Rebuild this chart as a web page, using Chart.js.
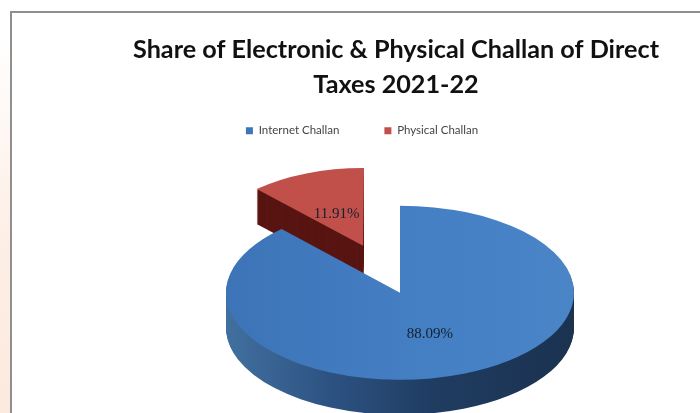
<!DOCTYPE html>
<html>
<head>
<meta charset="utf-8">
<title>Challan share</title>
<script src="https://cdn.jsdelivr.net/npm/chart.js@4/dist/chart.umd.min.js"></script>
<style>
  html, body { margin: 0; padding: 0; width: 700px; height: 413px; overflow: hidden; }
  body { background: linear-gradient(#ffffff 8%, #fdeee5 60%, #fdeade); position: relative; }
  #frame {
    position: absolute; left: 10px; top: 11px; right: 0; bottom: 0;
    background: #fff; border-left: 2px solid #8f8f8f; border-top: 2px solid #8f8f8f;
  }
  canvas { position: absolute; left: 0; top: 0; }
</style>
</head>
<body>
<div id="frame"></div>
<canvas id="chart" width="700" height="413"></canvas>
<script>
const categories = ["Internet Challan", "Physical Challan"];
const shares = [88.09, 11.91];
const titleLines = ["Share of Electronic & Physical Challan of Direct", "Taxes 2021-22"];

const squash = 0.5;      // tilt of the pie
const depth = 35;        // thickness of the 3d edge
const pieRadius = 174;
const slicedRadius = 128;
const sliceAngleFix = 0.034; // arc narrows itself when offset, give that back

const canvas = document.getElementById("chart");
const ctx = canvas.getContext("2d");

function sweep(stops) {
  const g = ctx.createLinearGradient(226, 0, 574, 0);
  stops.forEach(s => g.addColorStop(s[0], s[1]));
  return g;
}

const faceColors = [
  sweep([[0, "#3d74b8"], [0.6, "#457fc4"], [1, "#4a85c8"]]),
  "#c2504a"
];
const sideColors = [
  sweep([[0, "#41709f"], [0.3, "#2d5282"], [0.6, "#1f3c61"], [1, "#1b3250"]]),
  "#581512"
];

function tilt(c, arc, drop) {
  c.translate(0, arc.y + drop);
  c.scale(1, squash);
  c.translate(0, -arc.y);
}

// flat pie gets squashed, and the edge is stacked underneath it
const pie3d = {
  id: "pie3d",
  afterLayout(chart) {
    chart.titleBlock.left -= 4;
    chart.titleBlock.right -= 4;
    chart.legend.left -= 38;
    chart.legend.right -= 38;
    chart.legend.top -= 26;
    chart.legend.bottom -= 26;
  },
  afterDatasetsUpdate(chart) {
    const sliced = chart.getDatasetMeta(0).data[1];
    sliced.outerRadius = slicedRadius;
    sliced.startAngle -= sliceAngleFix;
    sliced.endAngle += sliceAngleFix;
    sliced.circumference += sliceAngleFix * 2;
  },
  beforeDatasetsDraw(chart) {
    const c = chart.ctx;
    const arcs = chart.getDatasetMeta(0).data;

    [1, 0].forEach(i => {
      const arc = arcs[i];
      const faceOptions = arc.options;
      arc.options = Object.create(faceOptions, { backgroundColor: { value: sideColors[i] } });
      for (let d = depth; d > 0; d--) {
        c.save();
        tilt(c, arc, d);
        arc.draw(c);
        c.restore();
      }
      arc.options = faceOptions;
    });

    c.save();
    tilt(c, arcs[0], 0);
  },
  afterDatasetsDraw(chart) {
    const c = chart.ctx;
    c.restore();

    const arcs = chart.getDatasetMeta(0).data;
    c.save();
    c.font = "15px 'Liberation Serif'";
    c.fillStyle = "#14202e";
    c.textAlign = "center";
    c.textBaseline = "middle";
    arcs.forEach((arc, i) => {
      const mid = (arc.startAngle + arc.endAngle) / 2;
      const reach = arc.outerRadius / 2 + (arc.options.offset || 0) / 4;
      const x = arc.x + Math.cos(mid) * reach;
      const y = arc.y + Math.sin(mid) * reach * squash;
      c.fillText(shares[i].toFixed(2) + "%", x + (i ? -3 : -2), y + (i ? -2 : 1));
    });
    c.restore();
  }
};

new Chart(canvas, {
  type: "pie",
  data: {
    labels: categories,
    datasets: [{
      data: shares,
      backgroundColor: faceColors,
      borderWidth: 0,
      offset: [0, 404],
      clip: false
    }]
  },
  options: {
    responsive: false,
    animation: false,
    events: [],
    radius: pieRadius,
    cutout: "0%",
    layout: { padding: { left: 100 } },
    plugins: {
      title: {
        display: true,
        text: titleLines,
        color: "#111",
        font: { family: "Lato", size: 25.2, weight: "bold", lineHeight: 35 / 25.2 },
        padding: { top: 32, bottom: 4 }
      },
      legend: {
        position: "top",
        labels: {
          color: "#444",
          font: { family: "Lato", size: 11.5 },
          boxWidth: 7,
          boxHeight: 7,
          padding: 45
        }
      },
      tooltip: { enabled: false }
    }
  },
  plugins: [pie3d]
});
</script>
</body>
</html>
